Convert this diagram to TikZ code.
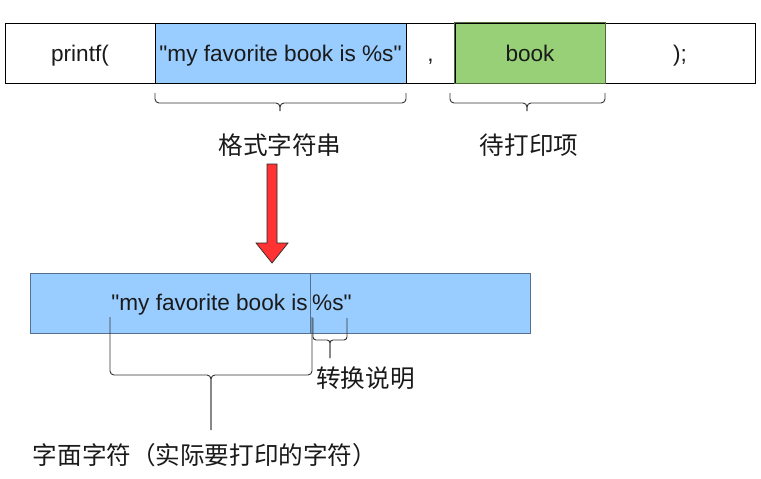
\documentclass[tikz,border=0pt]{standalone}
\usepackage{fontspec}
\setmainfont{Liberation Sans}[Ligatures=TeXOff]
\newfontfamily\cjk{Noto Sans CJK SC}
\definecolor{lblue}{HTML}{99CCFF}
\definecolor{bblue}{HTML}{56708F}
\definecolor{lgreen}{HTML}{97D077}
\definecolor{dgreen}{HTML}{4E6B3A}
\definecolor{ared}{HTML}{FF3333}
\definecolor{txt}{HTML}{1A1A1A}
\tikzset{
  cell/.style={draw=black, line width=0.9pt, minimum height=60pt, inner sep=0pt, text height=16pt, text depth=0pt, font=\fontsize{22.6}{26}\selectfont, text=txt},
  brace/.style={draw=black!80, line width=0.9pt, rounded corners=4pt},
  cjklabel/.style={font=\cjk\fontsize{24.6}{28}\selectfont, text=txt, inner sep=0pt},
  ltxt/.style={font=\fontsize{22.6}{26}\selectfont, text=txt, inner sep=0pt}
}
\begin{document}
\begin{tikzpicture}[x=1pt,y=-1pt]
\useasboundingbox[fill=white] (0,0) rectangle (761,479);
% top row
\node[cell, minimum width=150pt] (pf) at (80,53) {printf(};
\node[cell, fill=lblue, minimum width=251pt] (fmt) at (280.5,53) {"my favorite book is \%s"};
\node[cell, minimum width=49pt] (cm) at (430.5,53) {,};
\node[cell, fill=lgreen, minimum width=150pt] (bk) at (530,53) {book};
\node[cell, minimum width=150pt] (end) at (680,53) {);};
\draw[dgreen, line width=0.9pt] (bk.south west) rectangle (bk.north east);
% top braces
\draw[brace] (155,93) -- (155,103) -- (280,103) -- (280,111);
\draw[brace] (280,111) -- (280,103) -- (406,103) -- (406,93);
\draw[brace] (450,93) -- (450,103) -- (527,103) -- (527,111);
\draw[brace] (527,111) -- (527,103) -- (605,103) -- (605,93);
\node[cjklabel] (l1) at (280,145) {格式字符串};
\node[cjklabel] (l2) at (529,145) {待打印项};
% red arrow
\draw[fill=ared, draw=black!85, line width=0.7pt] (267,164) -- (277,164) -- (277,243) -- (288,243) -- (272,263) -- (256,243) -- (267,243) -- cycle;
% bottom box
\node[draw=bblue, fill=lblue, line width=0.9pt, minimum width=280pt, minimum height=60pt, inner sep=0pt] (lb) at (170,303) {};
\node[draw=bblue, fill=lblue, line width=0.9pt, minimum width=220pt, minimum height=60pt, inner sep=0pt] (rb) at (420,303) {};
\node[ltxt, anchor=base east] (t1) at (308,310) {"my favorite book is};
\node[ltxt, anchor=base west] (t2) at (312,310) {\%s"};
% big brace
\draw[brace] (110,317) -- (110,375) -- (211,375) -- (211,430);
\draw[brace] (211,430) -- (211,375) -- (312,375) -- (312,317);
% small brace
\draw[brace, rounded corners=3pt] (313,318) -- (313,340) -- (330,340) -- (330,358);
\draw[brace, rounded corners=3pt] (330,358) -- (330,340) -- (347,340) -- (347,318);
\node[cjklabel, anchor=west] (l3) at (316,378) {转换说明};
\node[cjklabel] (l4) at (205,455) {字面字符（实际要打印的字符）};
\end{tikzpicture}
\end{document}
